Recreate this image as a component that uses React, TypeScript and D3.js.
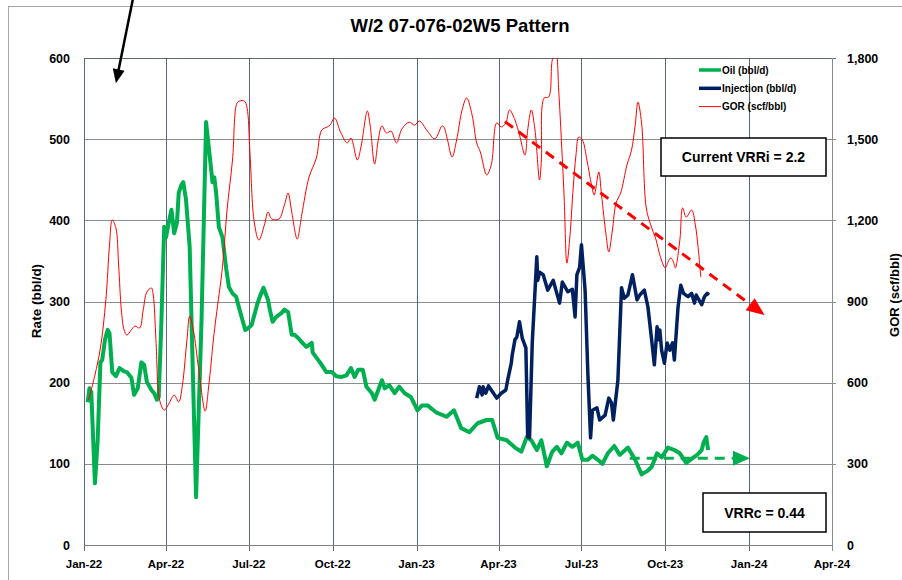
import React, { useEffect, useRef } from 'react';
import * as d3 from 'd3';

// rate axis (left) series, bbl/d
const oilSeries: [string, number][] = [
  ["2022-01-05",176],["2022-01-07",193],["2022-01-09",188],["2022-01-13",76],["2022-01-16",129],["2022-01-19",225],
  ["2022-01-21",228],["2022-01-24",253],["2022-01-27",265],["2022-01-29",261],["2022-02-01",213],["2022-02-05",208],
  ["2022-02-09",218],["2022-02-14",214],["2022-02-17",213],["2022-02-22",206],["2022-02-25",185],["2022-03-01",193],
  ["2022-03-05",225],["2022-03-08",222],["2022-03-11",201],["2022-03-16",191],["2022-03-19",187],["2022-03-22",179],
  ["2022-03-24",182],["2022-03-27",277],["2022-03-30",392],["2022-04-01",379],["2022-04-04",397],["2022-04-07",413],
  ["2022-04-10",384],["2022-04-13",397],["2022-04-15",434],["2022-04-18",444],["2022-04-20",447],["2022-04-23",425],
  ["2022-04-27",367],["2022-04-29",277],["2022-05-04",59],["2022-05-10",277],["2022-05-15",521],["2022-05-21",458],
  ["2022-05-22",447],["2022-05-24",453],["2022-05-26",434],["2022-05-29",392],["2022-06-02",379],["2022-06-06",341],
  ["2022-06-09",318],["2022-06-13",310],["2022-06-17",306],["2022-06-20",293],["2022-06-24",277],["2022-06-27",265],
  ["2022-06-30",267],["2022-07-04",271],["2022-07-10",296],["2022-07-13",306],["2022-07-17",317],["2022-07-22",302],
  ["2022-07-24",290],["2022-07-27",275],["2022-07-31",281],["2022-08-06",286],["2022-08-09",290],["2022-08-13",287],
  ["2022-08-17",259],["2022-08-20",259],["2022-08-24",255],["2022-08-28",250],["2022-09-02",244],["2022-09-08",249],
  ["2022-09-09",237],["2022-09-17",225],["2022-09-24",213],["2022-09-30",213],["2022-10-05",208],["2022-10-11",207],
  ["2022-10-16",209],["2022-10-21",218],["2022-10-25",207],["2022-10-29",216],["2022-11-03",216],["2022-11-07",195],
  ["2022-11-13",187],["2022-11-16",179],["2022-11-24",203],["2022-11-27",193],["2022-12-02",197],["2022-12-08",187],
  ["2022-12-13",195],["2022-12-19",187],["2022-12-26",182],["2023-01-02",166],["2023-01-07",172],["2023-01-13",172],
  ["2023-01-23",163],["2023-02-03",158],["2023-02-11",166],["2023-02-19",144],["2023-02-28",139],["2023-03-09",150],
  ["2023-03-19",154],["2023-03-25",154],["2023-03-31",132],["2023-04-10",129],["2023-04-19",120],["2023-04-26",115],
  ["2023-05-02",133],["2023-05-07",129],["2023-05-13",117],["2023-05-18",129],["2023-05-24",97],["2023-05-30",115],
  ["2023-06-04",121],["2023-06-09",113],["2023-06-15",126],["2023-06-21",121],["2023-06-27",126],["2023-07-02",105],
  ["2023-07-08",105],["2023-07-13",110],["2023-07-19",105],["2023-07-24",100],["2023-07-30",113],["2023-08-06",122],
  ["2023-08-12",111],["2023-08-21",120],["2023-08-29",105],["2023-09-05",87],["2023-09-11",91],["2023-09-16",96],
  ["2023-09-22",113],["2023-09-27",108],["2023-10-04",120],["2023-10-11",117],["2023-10-17",113],["2023-10-24",101],
  ["2023-10-31",107],["2023-11-05",111],["2023-11-10",117],["2023-11-12",126],["2023-11-15",133],["2023-11-17",117],
];

const injectionSeries: [string, number][] = [
  ["2023-03-08",181],["2023-03-11",195],["2023-03-14",185],["2023-03-15",195],["2023-03-18",187],["2023-03-21",196],
  ["2023-03-24",191],["2023-03-30",181],["2023-04-04",187],["2023-04-09",191],["2023-04-11",203],["2023-04-15",224],
  ["2023-04-16",234],["2023-04-19",253],["2023-04-21",256],["2023-04-24",275],["2023-04-27",255],["2023-05-01",243],
  ["2023-05-03",133],["2023-05-05",132],["2023-05-08",249],["2023-05-13",355],["2023-05-14",326],["2023-05-16",336],
  ["2023-05-20",333],["2023-05-25",314],["2023-05-31",326],["2023-06-07",298],["2023-06-10",324],["2023-06-16",312],
  ["2023-06-21",315],["2023-06-24",281],["2023-06-26",333],["2023-06-29",342],["2023-07-01",370],["2023-07-05",314],
  ["2023-07-08",212],["2023-07-11",132],["2023-07-13",166],["2023-07-18",169],["2023-07-21",154],["2023-07-27",160],
  ["2023-07-31",181],["2023-08-03",175],["2023-08-05",154],["2023-08-10",203],["2023-08-14",317],["2023-08-17",304],
  ["2023-08-21",308],["2023-08-26",333],["2023-08-31",302],["2023-09-03",308],["2023-09-08",314],["2023-09-12",293],
  ["2023-09-16",253],["2023-09-19",222],["2023-09-22",269],["2023-09-24",253],["2023-09-25",265],["2023-09-27",240],
  ["2023-09-30",224],["2023-10-03",249],["2023-10-06",240],["2023-10-09",249],["2023-10-11",228],["2023-10-15",293],
  ["2023-10-18",320],["2023-10-21",310],["2023-10-26",306],["2023-10-30",310],["2023-11-02",298],["2023-11-04",308],
  ["2023-11-10",296],["2023-11-13",306],["2023-11-16",310],["2023-11-18",308],
];

// GOR axis (right) series, scf/bbl
const gorSeries: [string, number][] = [
  ["2022-01-06",536],["2022-01-13",628],["2022-01-19",728],["2022-01-25",906],["2022-01-29",1109],["2022-02-01",1201],
  ["2022-02-05",1172],["2022-02-08",1035],["2022-02-11",869],["2022-02-14",795],["2022-02-17",776],["2022-02-22",795],
  ["2022-02-26",809],["2022-03-03",802],["2022-03-07",869],["2022-03-11",935],["2022-03-16",950],["2022-03-18",924],
  ["2022-03-21",758],["2022-03-25",536],["2022-03-30",499],["2022-04-04",521],["2022-04-10",554],["2022-04-15",529],
  ["2022-04-19",591],["2022-04-24",758],["2022-04-27",846],["2022-05-01",795],["2022-05-07",647],["2022-05-14",495],
  ["2022-05-18",591],["2022-05-23",758],["2022-05-26",843],["2022-06-02",1028],["2022-06-07",1238],["2022-06-13",1423],
  ["2022-06-18",1634],["2022-06-21",1641],["2022-06-26",1641],["2022-06-29",1615],["2022-07-02",1460],["2022-07-07",1190],
  ["2022-07-12",1127],["2022-07-18",1183],["2022-07-22",1231],["2022-07-26",1205],["2022-08-03",1205],["2022-08-09",1257],
  ["2022-08-13",1301],["2022-08-17",1231],["2022-08-23",1131],["2022-08-28",1220],["2022-09-05",1360],["2022-09-13",1430],
  ["2022-09-19",1534],["2022-09-25",1545],["2022-09-28",1552],["2022-10-03",1578],["2022-10-10",1523],["2022-10-17",1486],
  ["2022-10-21",1504],["2022-10-28",1423],["2022-11-01",1471],["2022-11-08",1604],["2022-11-11",1552],["2022-11-16",1408],
  ["2022-11-20",1497],["2022-11-24",1549],["2022-11-29",1523],["2022-12-04",1530],["2022-12-10",1486],["2022-12-16",1538],
  ["2022-12-24",1563],["2022-12-30",1552],["2023-01-04",1567],["2023-01-13",1530],["2023-01-21",1501],["2023-01-29",1549],
  ["2023-01-31",1545],["2023-02-04",1497],["2023-02-09",1434],["2023-02-14",1497],["2023-02-20",1608],["2023-02-25",1652],
  ["2023-03-03",1589],["2023-03-08",1486],["2023-03-12",1453],["2023-03-19",1368],["2023-03-24",1405],["2023-03-30",1560],
  ["2023-04-04",1545],["2023-04-09",1560],["2023-04-13",1608],["2023-04-19",1571],["2023-04-24",1515],["2023-04-30",1441],
  ["2023-05-03",1534],["2023-05-07",1608],["2023-05-11",1534],["2023-05-16",1349],["2023-05-18",1423],["2023-05-21",1652],
  ["2023-05-26",1656],["2023-05-30",1793],["2023-06-03",1830],["2023-06-06",1682],["2023-06-08",1560],["2023-06-12",1286],
  ["2023-06-15",1042],["2023-06-18",1127],["2023-06-22",1323],["2023-06-25",1441],["2023-06-28",1508],["2023-07-02",1497],
  ["2023-07-07",1423],["2023-07-12",1331],["2023-07-15",1294],["2023-07-20",1379],["2023-07-23",1294],["2023-07-28",1146],
  ["2023-07-31",1083],["2023-08-04",1164],["2023-08-08",1264],["2023-08-13",1301],["2023-08-20",1405],["2023-08-25",1460],
  ["2023-08-29",1552],["2023-09-01",1637],["2023-09-05",1560],["2023-09-10",1249],["2023-09-15",1183],["2023-09-21",1127],
  ["2023-09-25",1072],["2023-10-01",1024],["2023-10-04",1046],["2023-10-07",1061],["2023-10-10",1046],["2023-10-12",1024],
  ["2023-10-17",1127],["2023-10-20",1246],["2023-10-24",1212],["2023-10-30",1238],["2023-11-03",1183],["2023-11-06",1101],
  ["2023-11-09",990],
];

const quarterTicks = ["2022-01-01","2022-04-01","2022-07-01","2022-10-01","2023-01-01","2023-04-01","2023-07-01","2023-10-01","2024-01-01","2024-04-01"];
const rateTicks = [0, 100, 200, 300, 400, 500, 600];
const gorTicks = [0, 300, 600, 900, 1200, 1500, 1800];

const legendItems = [
  { label: "Oil (bbl/d)", color: "#00b050", width: 3.5 },
  { label: "Injection (bbl/d)", color: "#002060", width: 3.5 },
  { label: "GOR (scf/bbl)", color: "#ff0000", width: 1 },
];

// trend arrows: [date, value] start / end
const gorTrend: [string, number][] = [["2023-04-08", 1565], ["2024-01-18", 850]];
const oilTrend: [string, number][] = [["2023-08-23", 107], ["2024-01-02", 107]];
const pointerArrow: [string, number][] = [["2022-02-25", 680], ["2022-02-05", 569]];

const FONT = "'Liberation Sans', Arial, sans-serif";
const parse = d3.timeParse("%Y-%m-%d");

const App = () => {
  const ref = useRef<SVGSVGElement>(null);

  useEffect(() => {
    const svg = d3.select(ref.current);
    svg.selectAll("*").remove();

    const left = 84, right = 832, top = 58, bottom = 545;

    const x = d3.scaleTime()
      .domain([parse(quarterTicks[0]), parse(quarterTicks[quarterTicks.length - 1])])
      .range([left, right]);
    const yL = d3.scaleLinear().domain([0, 600]).range([bottom, top]);
    const yR = d3.scaleLinear().domain([0, 1800]).range([bottom, top]);

    // outer chart frame
    svg.append("rect")
      .attr("x", 8.5).attr("y", 6.5).attr("width", 1000).attr("height", 1000)
      .attr("fill", "#fff").attr("stroke", "#a6a6a6");

    svg.append("text")
      .attr("x", 460).attr("y", 32)
      .attr("text-anchor", "middle")
      .attr("font-family", FONT).attr("font-weight", "bold").attr("font-size", 18.5)
      .text("W/2 07-076-02W5 Pattern");

    // horizontal grid (extends out as right-axis ticks)
    svg.append("g").selectAll("line")
      .data(rateTicks.filter(t => t > 0))
      .join("line")
      .attr("x1", left).attr("x2", right + 4)
      .attr("y1", d => Math.round(yL(d)) + 0.5).attr("y2", d => Math.round(yL(d)) + 0.5)
      .attr("stroke", d => d === 600 ? "#5b667c" : "#8c8c8c")
      .attr("stroke-width", 1);

    // vertical grid (extends down as x ticks)
    svg.append("g").selectAll("line")
      .data(quarterTicks)
      .join("line")
      .attr("x1", d => Math.round(x(parse(d))) + 0.5).attr("x2", d => Math.round(x(parse(d))) + 0.5)
      .attr("y1", top).attr("y2", bottom + 6)
      .attr("stroke", (d, i) => i === quarterTicks.length - 1 ? "#8c8c8c" : "#5b667c")
      .attr("stroke-width", 1);

    // bottom axis line
    svg.append("line")
      .attr("x1", left).attr("x2", right + 1)
      .attr("y1", bottom + 0.5).attr("y2", bottom + 0.5)
      .attr("stroke", "#7f7f7f");

    const tickText = (sel) => sel
      .attr("font-family", FONT).attr("font-weight", "bold").attr("font-size", 12.5).attr("fill", "#000");

    svg.append("g").selectAll("text")
      .data(quarterTicks)
      .join("text")
      .attr("x", d => x(parse(d)))
      .attr("y", 568)
      .attr("text-anchor", "middle")
      .text(d => d3.timeFormat("%b-%y")(parse(d)))
      .call(tickText).attr("font-size", 11.5);

    svg.append("g").selectAll("text")
      .data(rateTicks)
      .join("text")
      .attr("x", 70)
      .attr("y", d => yL(d) + 4.5)
      .attr("text-anchor", "end")
      .text(d => d3.format(",")(d))
      .call(tickText);

    svg.append("g").selectAll("text")
      .data(gorTicks)
      .join("text")
      .attr("x", 847)
      .attr("y", d => yR(d) + 4.5)
      .attr("text-anchor", "start")
      .text(d => d3.format(",")(d))
      .call(tickText);

    svg.append("text")
      .attr("transform", "translate(41,301) rotate(-90)")
      .attr("text-anchor", "middle")
      .text("Rate (bbl/d)")
      .call(tickText).attr("font-size", 13.5);

    svg.append("text")
      .attr("transform", "translate(899,295) rotate(-90)")
      .attr("text-anchor", "middle")
      .text("GOR (scf/bbl)")
      .call(tickText).attr("font-size", 13);

    svg.append("clipPath").attr("id", "plotClip")
      .append("rect")
      .attr("x", left).attr("y", top).attr("width", right - left).attr("height", bottom - top);

    const plot = svg.append("g").attr("clip-path", "url(#plotClip)");

    const rateLine = d3.line<[string, number]>()
      .x(d => x(parse(d[0])))
      .y(d => yL(d[1]));

    const gorLine = d3.line<[string, number]>()
      .x(d => x(parse(d[0])))
      .y(d => yR(d[1]))
      .curve(d3.curveCatmullRom.alpha(0.5));

    plot.append("path")
      .datum(oilSeries)
      .attr("fill", "none")
      .attr("stroke", "#00b050")
      .attr("stroke-width", 4)
      .attr("stroke-linejoin", "round")
      .attr("d", rateLine);

    plot.append("path")
      .datum(injectionSeries)
      .attr("fill", "none")
      .attr("stroke", "#002060")
      .attr("stroke-width", 3.5)
      .attr("stroke-linejoin", "round")
      .attr("d", rateLine);

    plot.append("path")
      .datum(gorSeries)
      .attr("fill", "none")
      .attr("stroke", "#ff0000")
      .attr("stroke-width", 1)
      .attr("d", gorLine);

    // arrow with filled head
    const arrow = (x1, y1, x2, y2, color, width, dash, headLen, headW) => {
      const ang = Math.atan2(y2 - y1, x2 - x1);
      const bx = x2 - headLen * Math.cos(ang), by = y2 - headLen * Math.sin(ang);
      svg.append("line")
        .attr("x1", x1).attr("y1", y1).attr("x2", bx + Math.cos(ang)).attr("y2", by + Math.sin(ang))
        .attr("stroke", color).attr("stroke-width", width)
        .attr("stroke-dasharray", dash);
      const px = -Math.sin(ang) * headW / 2, py = Math.cos(ang) * headW / 2;
      svg.append("path")
        .attr("d", `M${x2},${y2}L${bx + px},${by + py}L${bx - px},${by - py}Z`)
        .attr("fill", color);
    };

    arrow(x(parse(gorTrend[0][0])), yR(gorTrend[0][1]), x(parse(gorTrend[1][0])), yR(gorTrend[1][1]),
      "#ff0000", 3, "10,7", 18, 15);
    arrow(x(parse(oilTrend[0][0])), yL(oilTrend[0][1]), x(parse(oilTrend[1][0])), yL(oilTrend[1][1]),
      "#00b050", 3, "10,7", 17, 15);
    arrow(x(parse(pointerArrow[0][0])), yL(pointerArrow[0][1]), x(parse(pointerArrow[1][0])), yL(pointerArrow[1][1]),
      "#000", 2.5, null, 14, 12);

    // legend
    const legend = svg.append("g")
      .selectAll("g")
      .data(legendItems)
      .join("g")
      .attr("transform", (d, i) => `translate(699,${70 + i * 18.3})`);
    legend.append("line")
      .attr("x1", 0).attr("x2", 22)
      .attr("stroke", d => d.color)
      .attr("stroke-width", d => d.width);
    legend.append("text")
      .attr("x", 23).attr("y", 3.5)
      .attr("font-family", FONT).attr("font-weight", "bold").attr("font-size", 10)
      .text(d => d.label);

    // annotation boxes
    const box = (bx, by, bw, bh, label) => {
      svg.append("rect")
        .attr("x", bx).attr("y", by).attr("width", bw).attr("height", bh)
        .attr("fill", "#fff").attr("stroke", "#000").attr("stroke-width", 1.5);
      svg.append("text")
        .attr("x", bx + bw / 2).attr("y", by + bh / 2 + 5)
        .attr("text-anchor", "middle")
        .attr("font-family", FONT).attr("font-weight", "bold").attr("font-size", 14)
        .text(label);
    };
    box(661, 138, 165, 38, "Current VRRi = 2.2");
    box(703, 493, 123, 39, "VRRc = 0.44");
  }, []);

  return (
    <svg ref={ref} width={902} height={580}
      style={{ position: 'absolute', left: 0, top: 0, background: '#fff' }} />
  );
};

export default App;
